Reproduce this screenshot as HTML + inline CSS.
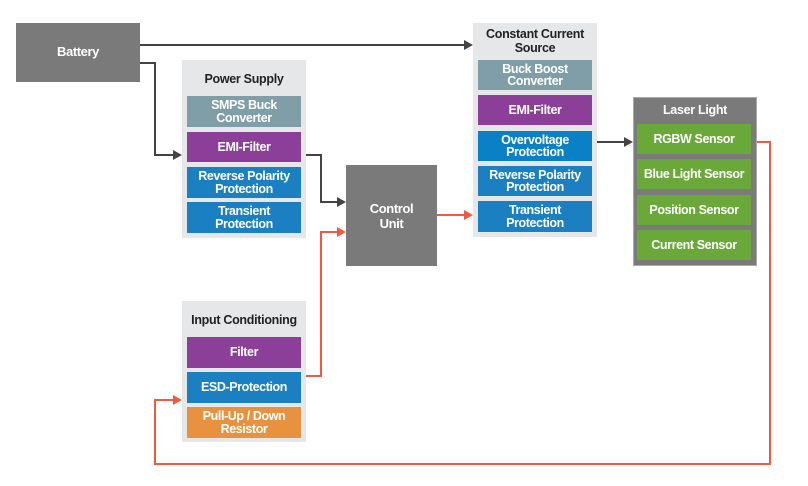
<!DOCTYPE html><html><head><style>
body{margin:0;width:808px;height:486px;background:#fff;position:relative;overflow:hidden;font-family:"Liberation Sans",Arial,sans-serif;font-weight:bold}
.a{position:absolute;box-sizing:border-box;display:flex;align-items:center;justify-content:center;text-align:center;color:#fff;font-size:12.5px;line-height:12.5px;letter-spacing:-0.4px}
.p{position:absolute;background:#e6e7e9}
.t{position:absolute;color:#222;font-size:12.5px;text-align:center;line-height:13.5px;letter-spacing:-0.3px}
.g{background:#7f9ea8}.m{background:#8c3f98}.b{background:#1a80c2}.gr{background:#6aa83a}.o{background:#e8923f}.d{background:#7a7a7a}
</style></head><body>
<svg width="808" height="486" style="position:absolute;left:0;top:0">
<g fill="none" stroke-width="2">
<path d="M139 45H466" stroke="#444"/>
<path d="M139 63H155V155H176" stroke="#444"/>
<path d="M306 155H321V202H340" stroke="#444"/>
<path d="M597 142H627" stroke="#444"/>
<path d="M306 376H321V232H340" stroke="#f05a40"/>
<path d="M437 215H467" stroke="#f05a40"/>
<path d="M751 142H770V464H155V400H176" stroke="#f05a40"/>
</g>
<g fill="#444"><path d="M473 45l-9-5v10z"/><path d="M182 155l-9-5v10z"/><path d="M346 202l-9-5v10z"/><path d="M633 142l-9-5v10z"/></g>
<g fill="#f05a40"><path d="M346 232l-9-5v10z"/><path d="M473 215l-9-5v10z"/><path d="M182 400l-9-5v10z"/></g>
</svg>
<div class="a d" style="left:16px;top:23px;width:124px;height:59px;font-size:13px">Battery</div>
<div class="p" style="left:182px;top:60px;width:124px;height:178px"></div>
<div class="t" style="left:182px;top:73px;width:124px">Power Supply</div>
<div class="a g" style="left:187px;top:96px;width:114px;height:31px">SMPS Buck<br>Converter</div>
<div class="a m" style="left:187px;top:132px;width:114px;height:30px">EMI-Filter</div>
<div class="a b" style="left:187px;top:167px;width:114px;height:31px">Reverse Polarity<br>Protection</div>
<div class="a b" style="left:187px;top:202px;width:114px;height:31px">Transient<br>Protection</div>
<div class="a d" style="left:346px;top:165px;width:91px;height:101px;font-size:13px;line-height:15px">Control<br>Unit</div>
<div class="p" style="left:473px;top:23px;width:124px;height:214px"></div>
<div class="t" style="left:473px;top:28px;width:124px">Constant Current<br>Source</div>
<div class="a g" style="left:478px;top:60px;width:114px;height:30px">Buck Boost<br>Converter</div>
<div class="a m" style="left:478px;top:95px;width:114px;height:30px">EMI-Filter</div>
<div class="a b" style="left:478px;top:131px;width:114px;height:30px;background:#0a80c6">Overvoltage<br>Protection</div>
<div class="a b" style="left:478px;top:166px;width:114px;height:30px">Reverse Polarity<br>Protection</div>
<div class="a b" style="left:478px;top:201px;width:114px;height:31px">Transient<br>Protection</div>
<div class="p" style="left:633px;top:97px;width:124px;height:169px;background:#7a7a7a;border:1px solid #aaa;box-sizing:border-box"></div>
<div class="t" style="left:633px;top:104px;width:124px;color:#fff">Laser Light</div>
<div class="a gr" style="left:637px;top:124px;width:114px;height:30px">RGBW Sensor</div>
<div class="a gr" style="left:637px;top:159px;width:114px;height:30px">Blue Light Sensor</div>
<div class="a gr" style="left:637px;top:195px;width:114px;height:30px">Position Sensor</div>
<div class="a gr" style="left:637px;top:230px;width:114px;height:30px">Current Sensor</div>
<div class="p" style="left:182px;top:301px;width:124px;height:141px"></div>
<div class="t" style="left:182px;top:314px;width:124px">Input Conditioning</div>
<div class="a m" style="left:187px;top:337px;width:114px;height:31px">Filter</div>
<div class="a b" style="left:187px;top:372px;width:114px;height:31px">ESD-Protection</div>
<div class="a o" style="left:187px;top:407px;width:114px;height:31px">Pull-Up / Down<br>Resistor</div>
</body></html>
